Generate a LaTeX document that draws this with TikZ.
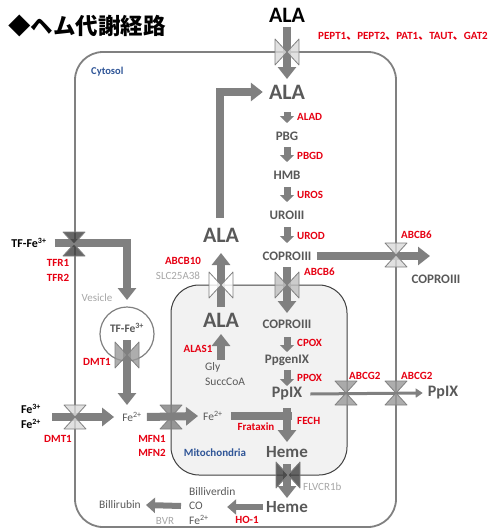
\documentclass[tikz,border=0pt]{standalone}
\usepackage{fontspec}
\setmainfont{Carlito}
\newfontfamily\cjk{Noto Sans CJK JP}
\usetikzlibrary{arrows.meta,calc}
\definecolor{arrgray}{HTML}{808080}
\definecolor{txtgray}{HTML}{595959}
\definecolor{ltgray}{HTML}{A6A6A6}
\definecolor{redlab}{RGB}{230,0,18}
\definecolor{bluelab}{HTML}{2F5597}
\definecolor{mitofill}{HTML}{F2F2F2}
\tikzset{
  every node/.style={inner sep=0pt, font=\bfseries},
  big/.style={text=txtgray, font=\bfseries\fontsize{22}{22}\selectfont},
  mid/.style={text=txtgray, font=\bfseries\fontsize{13}{13}\selectfont},
  large/.style={text=txtgray, font=\bfseries\fontsize{17}{17}\selectfont},
  lab/.style={text=redlab, font=\bfseries\fontsize{11}{11}\selectfont},
  graylab/.style={text=ltgray, font=\fontsize{11}{11}\selectfont},
  plain/.style={text=txtgray, font=\fontsize{11.5}{11.5}\selectfont},
  blk/.style={text=black, font=\bfseries\fontsize{12}{12}\selectfont},
  bigarr/.style={draw=arrgray, line width=8pt, -{Triangle[width=18pt,length=12pt]}},
  chainarr/.style={draw=arrgray, line width=7pt, -{Triangle[width=14pt,length=7pt]}},
  thinarr/.style={draw=arrgray, line width=3pt, -{Triangle[width=9pt,length=7pt]}},
  pics/bowh/.style={code={\filldraw[fill=#1, fill opacity=0.8, draw=arrgray, line width=0.8pt, line join=round]
     (-12,-13) -- (0,0) -- (-12,13) -- cycle (12,-13) -- (0,0) -- (12,13) -- cycle;}},
  pics/bowv/.style={code={\filldraw[fill=#1, fill opacity=0.8, draw=arrgray, line width=0.8pt, line join=round]
     (-11,-12) -- (0,0) -- (11,-12) -- cycle (-11,12) -- (0,0) -- (11,12) -- cycle;}},
}
\begin{document}
\begin{tikzpicture}[x=1pt,y=-1pt]
\useasboundingbox (0,0) rectangle (489,530);
% compartments
\draw[arrgray, line width=1.8pt, rounded corners=28pt] (75,52) rectangle (396,527);
\filldraw[fill=mitofill, draw=black!75, line width=1pt, rounded corners=28pt] (171,285) rectangle (347,475);
% title
\node[anchor=west, font=\cjk\bfseries\fontsize{22.5}{22.5}\selectfont] (title) at (8,26) {◆ヘム代謝経路};
\node[anchor=west, text=bluelab, font=\bfseries\fontsize{10.5}{10.5}\selectfont] (cyto) at (91,72) {Cytosol};
\node[text=bluelab, font=\bfseries\fontsize{11}{11}\selectfont] (mito) at (215,453) {Mitochondria};
% heme chain
\node[big, text=black] (ala0) at (287,15) {ALA};
\node[big] (ala2) at (287,92) {ALA};
\node[mid] (pbg) at (287,136) {PBG};
\node[mid] (hmb) at (287,175) {HMB};
\node[mid] (uro) at (287,215) {UROIII};
\node[mid] (cop1) at (287,256) {COPROIII};
\node[mid] (copout) at (436,279) {COPROIII};
\node[mid] (cop2) at (287,324) {COPROIII};
\node[mid] (ppgen) at (287,360) {PpgenIX};
\node[text=txtgray, font=\bfseries\fontsize{16}{16}\selectfont] (ppix) at (287,394) {PpIX};
\node[text=txtgray, font=\bfseries\fontsize{16}{16}\selectfont] (ppixout) at (443,393) {PpIX};
\node[large] (heme1) at (287,452) {Heme};
\node[large] (heme2) at (287,507) {Heme};
% enzyme labels
\node[lab, anchor=west] (pept) at (318,36) {PEPT1{\cjk 、}PEPT2{\cjk 、}PAT1{\cjk 、}TAUT{\cjk 、}GAT2};
\node[lab, anchor=west] (alad) at (297,117) {ALAD};
\node[lab, anchor=west] (pbgd) at (297,156) {PBGD};
\node[lab, anchor=west] (uros) at (297,195) {UROS};
\node[lab, anchor=west] (urod) at (297,236) {UROD};
\node[lab, anchor=west] (abcb6a) at (401,235) {ABCB6};
\node[lab, anchor=west] (abcb6b) at (304,272) {ABCB6};
\node[lab, anchor=west] (cpox) at (297,343) {CPOX};
\node[lab, anchor=west] (ppox) at (297,378) {PPOX};
\node[lab, anchor=west] (abcg2a) at (349,376) {ABCG2};
\node[lab, anchor=west] (abcg2b) at (401,376) {ABCG2};
\node[lab, anchor=west] (fech) at (297,421) {FECH};
\node[graylab, anchor=west] (flvcr) at (303,487) {FLVCR1b};
\node[lab] (ho1) at (247,520) {HO-1};
% heme degradation
\node[plain, anchor=west] (bv) at (189,492) {Billiverdin};
\node[plain, anchor=west] (co) at (189,506) {CO};
\node[plain, anchor=west] (fe2d) at (189,520) {Fe\textsuperscript{2+}};
\node[plain] (bilirubin) at (120,505) {Billirubin};
\node[graylab] (bvr) at (165,521) {BVR};
% ALA synthesis
\node[big] (alam) at (221,320) {ALA};
\node[big] (alac) at (221,235) {ALA};
\node[lab] (alas1) at (198,349) {ALAS1};
\node[plain, anchor=west] (gly) at (205,367) {Gly};
\node[plain, anchor=west] (succ) at (205,382) {SuccCoA};
\node[lab] (abcb10) at (183,261) {ABCB10};
\node[graylab] (slc) at (178,276) {SLC25A38};
% iron
\node[plain, anchor=west] (fe2m) at (203,416) {Fe\textsuperscript{2+}};
\node[lab] (frataxin) at (256,427) {Frataxin};
\node[blk] (tffe) at (29,243) {TF-Fe\textsuperscript{3+}};
\node[lab] (tfr1) at (58,263) {TFR1};
\node[lab] (tfr2) at (58,278) {TFR2};
\node[graylab] (vesicle) at (97,298) {Vesicle};
\draw[arrgray, line width=1.2pt] (127,334) circle (27);
\node[plain, font=\bfseries\fontsize{11.5}{11.5}\selectfont] (tffe2) at (127,328) {TF-Fe\textsuperscript{3+}};
\node[lab] (dmt1a) at (97,362) {DMT1};
\node[blk] (fe3) at (31,409) {Fe\textsuperscript{3+}};
\node[blk] (fe2) at (31,424) {Fe\textsuperscript{2+}};
\node[lab] (dmt1b) at (58,439) {DMT1};
\node[plain] (fe2c) at (132,417) {Fe\textsuperscript{2+}};
\node[lab] (mfn1) at (152,439) {MFN1};
\node[lab] (mfn2) at (152,453) {MFN2};
% arrows
\draw[bigarr] ($(ala0)+(0,12)$) -- ($(ala2)+(0,-13)$);
\draw[bigarr, line join=miter] ($(alac)+(-1,-17)$) |- ([xshift=-6pt]ala2.west);
\draw[chainarr] ($(ala2)+(0,20)$) -- ($(pbg)+(0,-13)$);
\draw[chainarr] ($(pbg)+(0,11)$) -- ($(hmb)+(0,-13)$);
\draw[chainarr] ($(hmb)+(0,12)$) -- ($(uro)+(0,-13)$);
\draw[chainarr] ($(uro)+(0,12)$) -- ($(cop1)+(0,-13)$);
\coordinate (copend) at (430,256);
\draw[bigarr] ([xshift=5pt]cop1.east) -- (copend);
\draw[bigarr] ($(cop1)+(0,11)$) -- ($(cop2)+(0,-11)$);
\draw[chainarr] ($(cop2)+(0,13)$) -- ($(ppgen)+(0,-8)$);
\draw[chainarr] ($(ppgen)+(0,10)$) -- ($(ppix)+(0,-8)$);
\draw[thinarr] ([xshift=8pt]ppix.east) -- ([xshift=-5pt]ppixout.west);
\draw[arrgray, line width=8pt] ([xshift=8pt]fe2m.east) -- ($(ppix)+(5,22)$);
\draw[bigarr] ($(ppix)+(0,14)$) -- ($(heme1)+(0,-10)$);
\draw[bigarr] ($(heme1)+(0,12)$) -- ($(heme2)+(0,-9)$);
\draw[chainarr, line width=6pt, -{Triangle[width=15pt,length=9pt]}] ([xshift=-3pt]heme2.west) -- ([xshift=-8pt]ho1.north west |- heme2.west);
\draw[chainarr, line width=6pt, -{Triangle[width=15pt,length=9pt]}] ([xshift=-8pt]co.west) -- ([xshift=5pt]bilirubin.east);
\draw[bigarr] ($(alam)+(0,40)$) -- ($(alam)+(0,14)$);
\draw[bigarr] ($(alam)+(0,-13)$) -- ($(alac)+(0,18)$);
\draw[bigarr, line join=miter] ([xshift=8pt]tffe.east) -| ($(vesicle)+(30,2)$);
\draw[bigarr] ($(tffe2)+(0,12)$) -- ($(fe2c)+(-5,-12)$);
\draw[bigarr] ($(fe3)+(21,8)$) -- ([xshift=-8pt]fe2c.west);
\draw[bigarr] ([xshift=5pt]fe2c.east) -- ([xshift=-5pt]fe2m.west);
% transporters
\pic at (287,52) {bowh=black!15};
\pic at (396,255) {bowv=black!15};
\pic at (287,285) {bowh=black!25};
\pic at (221,285) {bowh=white};
\pic at (346,393) {bowv=black!40};
\pic at (396,393) {bowv=black!40};
\pic at (288,475) {bowh=black!75};
\pic at (74,244) {bowv=black!75};
\pic at (127,355) {bowh=black!40};
\pic at (75,417) {bowv=black!15};
\pic at (171,417) {bowv=black!50};
\end{tikzpicture}
\end{document}
